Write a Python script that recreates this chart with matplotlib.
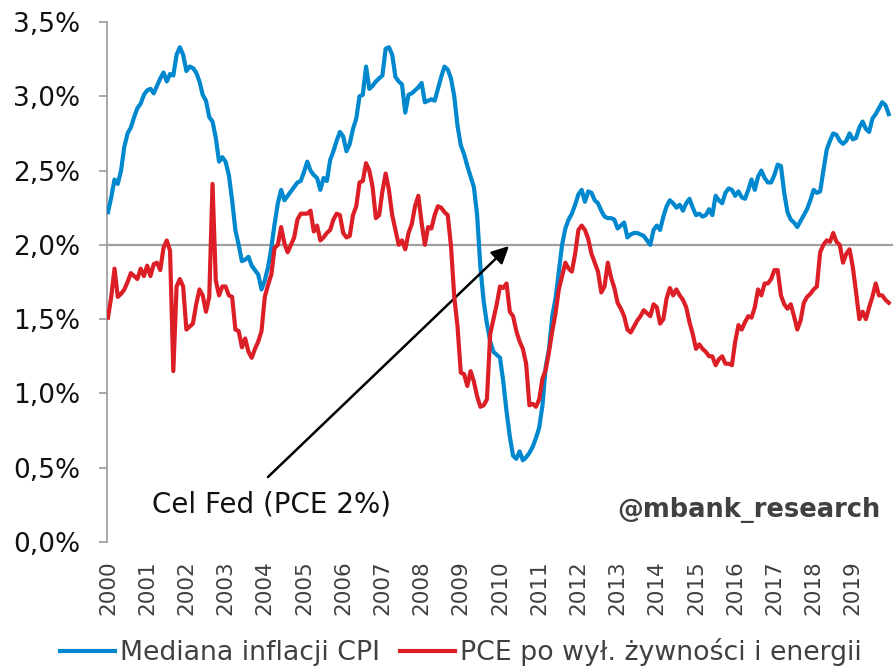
import matplotlib
matplotlib.use("Agg")
import matplotlib.pyplot as plt
import numpy as np

years = [str(y) for y in range(2000, 2020)]

median_cpi = [
    2.22, 2.32, 2.44, 2.41, 2.50, 2.66, 2.75, 2.79, 2.86, 2.92, 2.95, 3.01,
    3.04, 3.05, 3.02, 3.07, 3.12, 3.16, 3.10, 3.15, 3.14, 3.28, 3.33, 3.28,
    3.17, 3.20, 3.19, 3.16, 3.10, 3.01, 2.97, 2.86, 2.83, 2.72, 2.56, 2.59,
    2.56, 2.47, 2.30, 2.10, 2.00, 1.89, 1.90, 1.92, 1.86, 1.83, 1.80, 1.70,
    1.76, 1.85, 1.98, 2.14, 2.28, 2.37, 2.30, 2.33, 2.36, 2.39, 2.42, 2.43,
    2.49, 2.56, 2.50, 2.47, 2.45, 2.37, 2.45, 2.43, 2.57, 2.63, 2.70, 2.76,
    2.73, 2.63, 2.68, 2.78, 2.85, 3.00, 3.01, 3.20, 3.05, 3.07, 3.10, 3.12,
    3.14, 3.32, 3.33, 3.28, 3.13, 3.10, 3.08, 2.89, 3.01, 3.02, 3.04, 3.06,
    3.09, 2.96, 2.97, 2.98, 2.97, 3.05, 3.13, 3.20, 3.18, 3.12, 3.00, 2.80,
    2.67, 2.61, 2.53, 2.46, 2.39, 2.20, 1.85, 1.62, 1.47, 1.35, 1.28, 1.26,
    1.24, 1.08, 0.88, 0.71, 0.58, 0.56, 0.61, 0.55, 0.57, 0.60, 0.64, 0.70,
    0.77, 0.92, 1.18, 1.30, 1.52, 1.64, 1.82, 2.00, 2.11, 2.17, 2.21, 2.27,
    2.34, 2.37, 2.29, 2.36, 2.35, 2.30, 2.28, 2.23, 2.19, 2.18, 2.18, 2.17,
    2.11, 2.13, 2.15, 2.05, 2.07, 2.08, 2.08, 2.07, 2.06, 2.03, 2.00, 2.10,
    2.13, 2.10, 2.19, 2.26, 2.30, 2.28, 2.25, 2.27, 2.23, 2.28, 2.31, 2.25,
    2.20, 2.21, 2.19, 2.20, 2.24, 2.20, 2.33, 2.30, 2.28, 2.35, 2.38, 2.37,
    2.33, 2.36, 2.32, 2.31, 2.37, 2.44, 2.37, 2.46, 2.50, 2.45, 2.42, 2.42,
    2.47, 2.54, 2.53, 2.35, 2.22, 2.17, 2.15, 2.12, 2.16, 2.20, 2.24, 2.30,
    2.37, 2.35, 2.36, 2.50, 2.64, 2.70, 2.75, 2.74, 2.70, 2.68, 2.70, 2.75,
    2.71, 2.72, 2.79, 2.83, 2.78, 2.76, 2.85, 2.88, 2.92, 2.96, 2.94, 2.88,
]

core_pce = [
    1.51, 1.65, 1.84, 1.65, 1.67, 1.70, 1.75, 1.81, 1.79, 1.77, 1.84, 1.79,
    1.86, 1.79, 1.87, 1.88, 1.83, 1.98, 2.03, 1.96, 1.15, 1.72, 1.77, 1.72,
    1.43, 1.45, 1.47, 1.60, 1.70, 1.66, 1.55, 1.65, 2.41, 1.76, 1.66, 1.72,
    1.72, 1.66, 1.65, 1.43, 1.42, 1.31, 1.37, 1.28, 1.24, 1.30, 1.35, 1.42,
    1.65, 1.73, 1.80, 1.98, 2.00, 2.12, 2.01, 1.95, 2.00, 2.05, 2.17, 2.21,
    2.21, 2.21, 2.23, 2.09, 2.13, 2.03, 2.05, 2.08, 2.10, 2.17, 2.21, 2.20,
    2.08, 2.05, 2.06, 2.20, 2.26, 2.42, 2.43, 2.55, 2.50, 2.39, 2.18, 2.20,
    2.36, 2.48, 2.37, 2.20, 2.10, 2.00, 2.03, 1.97, 2.08, 2.14, 2.26, 2.33,
    2.15, 2.00, 2.12, 2.11, 2.20, 2.26, 2.25, 2.22, 2.20, 1.99, 1.65, 1.45,
    1.14, 1.13, 1.05, 1.15, 1.08, 0.98, 0.91, 0.92, 0.96, 1.40, 1.50, 1.60,
    1.72, 1.71, 1.74, 1.55, 1.52, 1.42, 1.35, 1.30, 1.20, 0.92, 0.93, 0.91,
    0.96, 1.10, 1.16, 1.28, 1.42, 1.54, 1.70, 1.79, 1.88, 1.84, 1.82, 1.94,
    2.10, 2.13, 2.10, 2.04, 1.94, 1.88, 1.82, 1.68, 1.72, 1.88, 1.78, 1.71,
    1.61, 1.57, 1.52, 1.43, 1.41, 1.45, 1.49, 1.52, 1.56, 1.54, 1.52, 1.60,
    1.58, 1.47, 1.50, 1.64, 1.71, 1.66, 1.70, 1.66, 1.63, 1.58, 1.48, 1.40,
    1.30, 1.33, 1.30, 1.28, 1.25, 1.25, 1.19, 1.23, 1.25, 1.20, 1.20, 1.19,
    1.35, 1.46, 1.43, 1.48, 1.52, 1.51, 1.58, 1.70, 1.66, 1.74, 1.74, 1.77,
    1.83, 1.83, 1.66, 1.60, 1.57, 1.60, 1.52, 1.43, 1.49, 1.61, 1.65, 1.67,
    1.70, 1.72, 1.95, 2.00, 2.03, 2.02, 2.08, 2.02, 2.00, 1.88, 1.94, 1.97,
    1.85, 1.68, 1.50, 1.55, 1.50, 1.58, 1.65, 1.74, 1.66, 1.66, 1.63, 1.61,
]

fed_target = 2.0
y_ticks = [0.0, 0.5, 1.0, 1.5, 2.0, 2.5, 3.0, 3.5]
y_labels = ["0,0%", "0,5%", "1,0%", "1,5%", "2,0%", "2,5%", "3,0%", "3,5%"]

label_blue = "Mediana inflacji CPI"
label_red = "PCE po wył. żywności i energii"
annot_text = "Cel Fed (PCE 2%)"
watermark = "@mbank_research"

BLUE = "#0088CE"
RED = "#DC1F26"
GREY = "#A0A0A0"
TXT = "#404040"

plt.rcParams["font.family"] = ["DejaVu Sans"]

fig = plt.figure(figsize=(8.96, 6.67), dpi=100)
ax = fig.add_axes([107 / 896, 1 - 542 / 667, 786 / 896, 520 / 667])

x = np.arange(len(median_cpi))
ax.axhline(fed_target, color=GREY, lw=1.6, zorder=1)
ax.plot(x, median_cpi, color=BLUE, lw=3.0, label=label_blue, zorder=3,
        solid_joinstyle="round")
ax.plot(np.arange(len(core_pce)), core_pce, color=RED, lw=3.0, label=label_red,
        zorder=4, solid_joinstyle="round")

ax.set_xlim(-0.3, 240.3)
ax.set_ylim(0, 3.5)

ax.set_yticks(y_ticks)
ax.set_yticklabels(y_labels, fontsize=19, color="#111111")
ax.tick_params(axis="y", length=6, width=1.3, color=GREY, pad=13)

ax.set_xticks(np.arange(0, 240, 12))
ax.set_xticklabels(years, rotation=90, fontsize=15.5, color=TXT)
ax.tick_params(axis="x", length=0, pad=13)

for s in ["top", "right", "bottom"]:
    ax.spines[s].set_visible(False)
ax.spines["left"].set_color(GREY)
ax.spines["left"].set_linewidth(1.3)

# annotation
fig.text(271 / 896, 1 - 505 / 667, annot_text, fontsize=20, color="#111111",
         ha="center", va="center")
ax.annotate("", xy=(509, 667 - 246), xycoords="figure pixels",
            xytext=(268, 667 - 477), textcoords="figure pixels",
            arrowprops=dict(arrowstyle="-|>", color="black", lw=1.8,
                            mutation_scale=26, shrinkA=0, shrinkB=0))

fig.text(880 / 896, 1 - 510 / 667, watermark, fontsize=18.5, fontweight="bold",
         color=TXT, ha="right", va="center")

fig.legend(loc="center", bbox_to_anchor=(461 / 896, 1 - 652 / 667), ncol=2,
           frameon=False, fontsize=19.3, handlelength=2.05, handletextpad=0.2,
           columnspacing=0.75, labelcolor=TXT, borderpad=0, borderaxespad=0)

fig.savefig("out.png", dpi=100)
